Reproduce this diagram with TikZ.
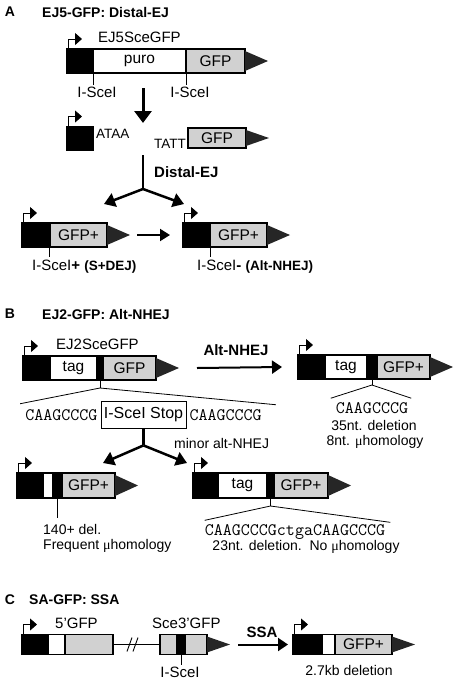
\documentclass[tikz,border=0pt]{standalone}
\usepackage{fontspec}
\setmainfont{Liberation Sans}
\newfontfamily\mufont{Liberation Serif}
\usetikzlibrary{arrows.meta,positioning}

\definecolor{gfpgray}{gray}{0.82}
\definecolor{tipgray}{gray}{0.15}

% dark arrow end of a reporter
\newcommand{\gfptip}[1]{\fill [tipgray] ([yshift=-2pt]#1.north east) -- ([xshift=23pt]#1.east) -- ([yshift=2pt]#1.south east) -- cycle;}
% bent promoter arrow
\newcommand{\promoter}[1]{\draw [line width=0.8pt,-{Triangle[length=7pt,width=12pt]}] ([xshift=1pt]#1.north west) -- ([xshift=1pt,yshift=10pt]#1.north west) -- ([xshift=15pt,yshift=10pt]#1.north west);}
\newcommand{\mus}{{\mufont μ}}

\begin{document}
\begin{tikzpicture}[x=1pt,y=-1pt]
\useasboundingbox (0,0) rectangle (460,681);
\begin{scope}
\tikzstyle{word} = [font=\fontsize{15}{17}\selectfont,inner sep=1pt]
\tikzstyle{note} = [font=\fontsize{14}{16}\selectfont,inner sep=1pt]
\tikzstyle{small} = [font=\fontsize{13.5}{15}\selectfont,inner sep=1pt]
\tikzstyle{title} = [font=\fontsize{14}{16}\selectfont\bfseries,inner sep=1pt]
\tikzstyle{bold} = [font=\fontsize{15}{17}\selectfont\bfseries,inner sep=1pt]
\tikzstyle{seq} = [font=\fontsize{17.5}{19}\selectfont\ttfamily,inner sep=1pt]
\tikzstyle{part} = [rectangle,draw,line width=1.5pt,inner sep=0pt,outer sep=0pt,minimum height=24pt,anchor=west,font=\fontsize{15.5}{17}\selectfont]
\tikzstyle{blk} = [part,fill=black]
\tikzstyle{wht} = [part,fill=white]
\tikzstyle{gry} = [part,fill=gfpgray]
\tikzstyle{tick} = [line width=1pt]
\tikzstyle{fan} = [line width=0.8pt]

%A
\node [title] (labA) at (10,12) {A};
\node [title,anchor=west] (titA) at (41,12) {EJ5-GFP: Distal-EJ};

\node [blk,minimum width=26pt] (a1k) at (67,61) {};
\node [wht,minimum width=93pt] (a1p) at (a1k.east) {puro};
\node [gry,minimum width=59pt] (a1g) at (a1p.east) {GFP};
\gfptip{a1g}
\promoter{a1k}
\node [word,anchor=west] (a1n) at ([xshift=4pt,yshift=12pt]a1p.north west) {EJ5SceGFP};
\node [word] (a1s1) at (97,92) {I-SceI};
\node [word] (a1s2) at (190,92) {I-SceI};
\draw [tick] (a1p.south west) -- (a1p.south west |- a1s1.north);
\draw [tick] (a1g.south west) -- (a1g.south west |- a1s2.north);

\coordinate (dA1) at (143,88);
\coordinate (dA2) at (143,123);
\draw [-{Triangle[length=12pt,width=17pt]},line width=3pt] (dA1) -- (dA2);

\node [blk,minimum width=26pt] (a2k) at (67,138.5) {};
\promoter{a2k}
\node [small,anchor=west] (a2l) at ([xshift=2pt,yshift=5pt]a2k.east) {ATAA};
\node [gry,minimum width=58pt,minimum height=20pt] (a2g) at (188,138) {GFP};
\gfptip{a2g}
\node [small,anchor=east] (a2r) at ([xshift=-1pt,yshift=-6pt]a2g.west) {TATT};

\coordinate (jA0) at (143,155);
\coordinate (jA1) at (143,189);
\coordinate (jA2) at (104,204);
\coordinate (jA3) at (184,204);
\draw [line width=2.5pt] (jA0) -- (jA1);
\draw [-{Triangle[length=11pt,width=14pt]},line width=2.5pt] (jA1) -- (jA2);
\draw [-{Triangle[length=11pt,width=14pt]},line width=2.5pt] (jA1) -- (jA3);
\node [bold,anchor=west] (jAt) at (153,172) {Distal-EJ};

\node [blk,minimum width=28pt] (a3k) at (22,235) {};
\node [gry,minimum width=57pt] (a3g) at (a3k.east) {GFP+};
\gfptip{a3g}
\promoter{a3k}
\node [word,anchor=west] (a3s) at (31,267) {I-SceI\textbf{+} {\fontsize{13.5}{15}\selectfont\bfseries (S+DEJ)}};
\draw [tick] ([xshift=-1pt]a3k.south east) -- ([xshift=-1pt,yshift=-10pt]a3k.south east);

\node [blk,minimum width=27pt] (a4k) at (183,235) {};
\node [gry,minimum width=57pt] (a4g) at (a4k.east) {GFP+};
\gfptip{a4g}
\promoter{a4k}
\node [word,anchor=west] (a4s) at (196,267) {I-SceI\textbf{-} {\fontsize{13.5}{15}\selectfont\bfseries (Alt-NHEJ)}};
\draw [tick] (a4k.south east) -- ([yshift=-10pt]a4k.south east);

\draw [-{Triangle[length=10pt,width=12pt]},line width=2pt] ([xshift=30pt]a3g.east) -- ([xshift=-13pt]a4k.west);

%B
\node [title] (labB) at (10,314) {B};
\node [title,anchor=west] (titB) at (41,314) {EJ2-GFP: Alt-NHEJ};

\node [blk,minimum width=27pt] (b1k) at (23,368) {};
\node [wht,minimum width=47pt] (b1t) at (b1k.east) {tag};
\node [blk,minimum width=6pt] (b1c) at (b1t.east) {};
\node [gry,minimum width=53pt] (b1g) at (b1c.east) {GFP};
\gfptip{b1g}
\promoter{b1k}
\node [word,anchor=west] (b1n) at ([xshift=5pt,yshift=12pt]b1t.north west) {EJ2SceGFP};

\node [draw,line width=0.8pt,minimum width=85pt,minimum height=27pt,inner sep=0pt,font=\fontsize{16}{18}\selectfont] (b1x) at (143.5,414.5) {I-SceI Stop};
\node [seq,anchor=east] (b1q1) at ([xshift=-2pt,yshift=-1pt]b1x.west) {CAAGCCCG};
\node [seq,anchor=west] (b1q2) at ([xshift=2pt,yshift=-1pt]b1x.east) {CAAGCCCG};
\coordinate (b1v) at ([yshift=-8pt]b1c.south);
\draw [tick] (b1c.south) -- (b1v);
\draw [fan] (b1v) -- ([xshift=-4pt,yshift=5pt]b1q1.north west);
\draw [fan] (b1v) -- ([xshift=13pt,yshift=4pt]b1q2.north east);

\coordinate (jB1) at ([yshift=-17pt]b1x.south);
\coordinate (jB2) at (103,463);
\coordinate (jB3) at (187,463);
\draw [line width=2.5pt] (b1x.south) -- (jB1);
\draw [-{Triangle[length=11pt,width=14pt]},line width=2.5pt] (jB1) -- (jB2);
\draw [-{Triangle[length=11pt,width=14pt]},line width=2.5pt] (jB1) -- (jB3);
\node [note,anchor=west] (jBt) at (173,443) {minor alt-NHEJ};

\node [blk,minimum width=27pt] (b2k) at (298,367) {};
\node [wht,minimum width=42pt] (b2t) at (b2k.east) {tag};
\node [blk,minimum width=10pt] (b2c) at (b2t.east) {};
\node [gry,minimum width=53pt] (b2g) at (b2c.east) {GFP+};
\gfptip{b2g}
\promoter{b2k}
\draw [-{Triangle[length=10pt,width=13pt]},line width=2pt] ([xshift=41pt]b1g.east) -- ([xshift=-16pt]b2k.west);
\node [bold] (b12t) at (236,350) {Alt-NHEJ};

\node [seq] (b2q) at (372,408) {CAAGCCCG};
\coordinate (b2v) at ([yshift=-6pt]b2c.south);
\draw [tick] (b2c.south) -- (b2v);
\draw [fan] (b2v) -- ([xshift=-4pt,yshift=3pt]b2q.north west);
\draw [fan] (b2v) -- ([xshift=2pt,yshift=3pt]b2q.north east);
\node [note] (b2d) at (374,425) {35nt. deletion};
\node [note] (b2h) at (375,442) {8nt. \mus homology};

\node [blk,minimum width=26pt,minimum height=25pt] (b3k) at (17,485.5) {};
\node [wht,minimum width=10pt,minimum height=25pt] (b3w) at (b3k.east) {};
\node [blk,minimum width=9pt,minimum height=25pt] (b3c) at (b3w.east) {};
\node [gry,minimum width=53pt,minimum height=25pt] (b3g) at (b3c.east) {GFP+};
\gfptip{b3g}
\promoter{b3k}
\draw [fan] (b3c.south) -- ([yshift=-20pt]b3c.south);
\node [note,anchor=west] (b3d) at (42,529) {140+ del.};
\node [note,anchor=west] (b3h) at (42,546) {Frequent \mus homology};

\node [blk,minimum width=25pt,minimum height=25pt] (b4k) at (193,485.5) {};
\node [wht,minimum width=49pt,minimum height=25pt] (b4t) at (b4k.east) {tag};
\node [blk,minimum width=7pt,minimum height=25pt] (b4c) at (b4t.east) {};
\node [gry,minimum width=54pt,minimum height=25pt] (b4g) at (b4c.east) {GFP+};
\gfptip{b4g}
\promoter{b4k}
\node [seq] (b4q) at (295,532) {CAAGCCCGctgaCAAGCCCG};
\coordinate (b4v) at ([yshift=-8pt]b4c.south);
\draw [tick] (b4c.south) -- (b4v);
\draw [fan] (b4v) -- ([xshift=1pt,yshift=3pt]b4q.north west);
\draw [fan] (b4v) -- ([xshift=4pt,yshift=1pt]b4q.north east);
\node [note] (b4d) at (306,547) {23nt. deletion.\ \ No \mus homology};

%C
\node [title] (labC) at (10,600) {C};
\node [title,anchor=west] (titC) at (28,600) {SA-GFP: SSA};

\node [blk,minimum width=26pt,minimum height=20pt] (c1k) at (22,644.5) {};
\node [wht,minimum width=17pt,minimum height=20pt] (c1w) at (c1k.east) {};
\node [gry,minimum width=48pt,minimum height=20pt] (c1g) at (c1w.east) {};
\promoter{c1k}
\node [word,anchor=west] (c1n) at (54,623) {5’GFP};

\node [gry,minimum width=17pt,minimum height=20pt] (c2a) at (160,644.5) {};
\node [blk,minimum width=8pt,minimum height=20pt] (c2k) at (c2a.east) {};
\node [gry,minimum width=22pt,minimum height=20pt] (c2b) at (c2k.east) {};
\gfptip{c2b}
\node [word,anchor=west] (c2n) at (151,623) {Sce3’GFP};
\node [word] (c2s) at (180,672) {I-SceI};
\draw [tick] (c2k.south) -- (c2k.south |- c2s.north);

\draw [line width=1.5pt] (c1g.east) -- (c2a.west);
\coordinate (cbr) at (133,644.5);
\draw [line width=0.9pt] ([xshift=-6pt,yshift=-7pt]cbr) -- ([xshift=-1pt,yshift=7pt]cbr);
\draw [line width=0.9pt] ([xshift=0pt,yshift=-7pt]cbr) -- ([xshift=5pt,yshift=7pt]cbr);

\node [blk,minimum width=29pt,minimum height=20pt] (c3k) at (293,644.5) {};
\node [wht,minimum width=13pt,minimum height=20pt] (c3w) at (c3k.east) {};
\node [gry,minimum width=57pt,minimum height=20pt] (c3g) at (c3w.east) {GFP+};
\gfptip{c3g}
\promoter{c3k}
\node [note] (c3d) at (349,670) {2.7kb deletion};

\draw [-{Triangle[length=10pt,width=13pt]},line width=2pt] ([xshift=31pt]c2b.east) -- ([xshift=-5pt]c3k.west);
\node [bold] (c23t) at (262,632) {SSA};
\end{scope}
\end{tikzpicture}
\end{document}
